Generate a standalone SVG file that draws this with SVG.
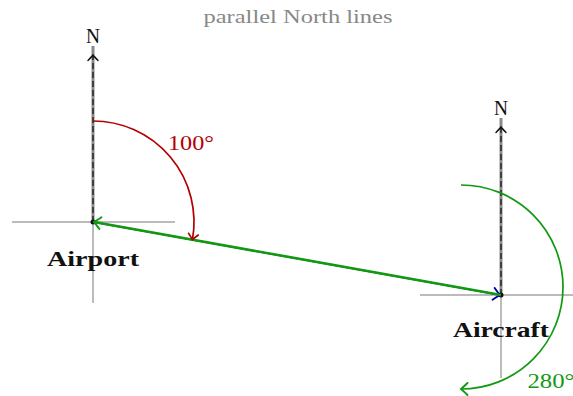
<svg xmlns="http://www.w3.org/2000/svg" width="573" height="396" viewBox="0 0 573 396">
<defs>
<style>
.txt{font-family:"Liberation Serif","DejaVu Serif",serif;}
.lbl{font-family:"Liberation Serif","DejaVu Serif",serif;font-weight:bold;font-size:22px;fill:#111;text-anchor:middle;}
.cross{stroke:#bbb;stroke-width:2;fill:none;}
.ngray{stroke:#8a8a8a;stroke-width:3;fill:none;}
.ndash{stroke:#111;stroke-width:1.2;fill:none;stroke-dasharray:6 3;}
</style>
<marker id="ak" viewBox="-7 -6 9 12" refX="0" refY="0" markerWidth="9" markerHeight="12" markerUnits="userSpaceOnUse" orient="auto">
<path d="M-5.5,-5 Q-1.5,-1.2 0,0 Q-1.5,1.2 -5.5,5" fill="none" stroke="#111" stroke-width="1.4" stroke-linecap="round"/>
</marker>
<marker id="ar" viewBox="-7 -6 9 12" refX="0" refY="0" markerWidth="9" markerHeight="12" markerUnits="userSpaceOnUse" orient="auto">
<path d="M-5.5,-5 Q-1.5,-1.2 0,0 Q-1.5,1.2 -5.5,5" fill="none" stroke="#b30000" stroke-width="1.6" stroke-linecap="round"/>
</marker>
<marker id="ag" viewBox="-8 -7 10 14" refX="0" refY="0" markerWidth="10" markerHeight="14" markerUnits="userSpaceOnUse" orient="auto">
<path d="M-6.5,-6 Q-1.8,-1.4 0,0 Q-1.8,1.4 -6.5,6" fill="none" stroke="#119911" stroke-width="1.9" stroke-linecap="round"/>
</marker>
<marker id="ab" viewBox="-8 -7 10 14" refX="0" refY="0" markerWidth="10" markerHeight="14" markerUnits="userSpaceOnUse" orient="auto">
<path d="M-6.5,-6 Q-1.8,-1.4 0,0 Q-1.8,1.4 -6.5,6" fill="none" stroke="#0000b0" stroke-width="1.9" stroke-linecap="round"/>
</marker>
</defs>
<rect width="573" height="396" fill="#fff"/>
<text class="txt" x="298" y="23" font-size="19" fill="#888" text-anchor="middle" textLength="189" lengthAdjust="spacingAndGlyphs">parallel North lines</text>

<g id="airport">
<line class="cross" x1="12" y1="222" x2="175" y2="222"/>
<line class="cross" x1="93" y1="222" x2="93" y2="303"/>
<line class="ngray" x1="93" y1="222" x2="93" y2="46"/>
<line class="ndash" x1="93" y1="222" x2="93" y2="55" marker-end="url(#ak)"/>
<text class="txt" x="93" y="43" font-size="20" fill="#111" text-anchor="middle" textLength="14" lengthAdjust="spacingAndGlyphs">N</text>
<circle cx="93" cy="222" r="2.5" fill="#111"/>
<text class="lbl" x="93" y="266" textLength="92" lengthAdjust="spacingAndGlyphs">Airport</text>
</g>

<g id="aircraft">
<line class="cross" x1="420" y1="295" x2="573" y2="295"/>
<line class="cross" x1="501" y1="295" x2="501" y2="378"/>
<line class="ngray" x1="501" y1="295" x2="501" y2="118"/>
<line class="ndash" x1="501" y1="295" x2="501" y2="127" marker-end="url(#ak)"/>
<text class="txt" x="501" y="115" font-size="20" fill="#111" text-anchor="middle" textLength="14" lengthAdjust="spacingAndGlyphs">N</text>
<circle cx="501" cy="295" r="2.5" fill="#111"/>
<text class="lbl" x="501" y="337" textLength="96" lengthAdjust="spacingAndGlyphs">Aircraft</text>
</g>

<g id="connectors">
<line x1="93" y1="222" x2="500" y2="295" stroke="#0000b0" stroke-width="1.5" marker-end="url(#ab)"/>
<line x1="501" y1="295" x2="94" y2="222" stroke="#119911" stroke-width="2.6" marker-end="url(#ag)"/>
<path d="M93,121 A101,101 0 0 1 192.47,239.54" fill="none" stroke="#b30000" stroke-width="1.7" marker-end="url(#ar)"/>
<text class="txt" x="191" y="150" font-size="20" fill="#b30000" text-anchor="middle" textLength="46" lengthAdjust="spacingAndGlyphs">100°</text>
<path d="M461,185 A102,102 0 0 1 461,389" fill="none" stroke="#119911" stroke-width="1.7" marker-end="url(#ag)"/>
<text class="txt" x="551" y="388" font-size="20" fill="#119911" text-anchor="middle" textLength="47" lengthAdjust="spacingAndGlyphs">280°</text>
</g>
</svg>
